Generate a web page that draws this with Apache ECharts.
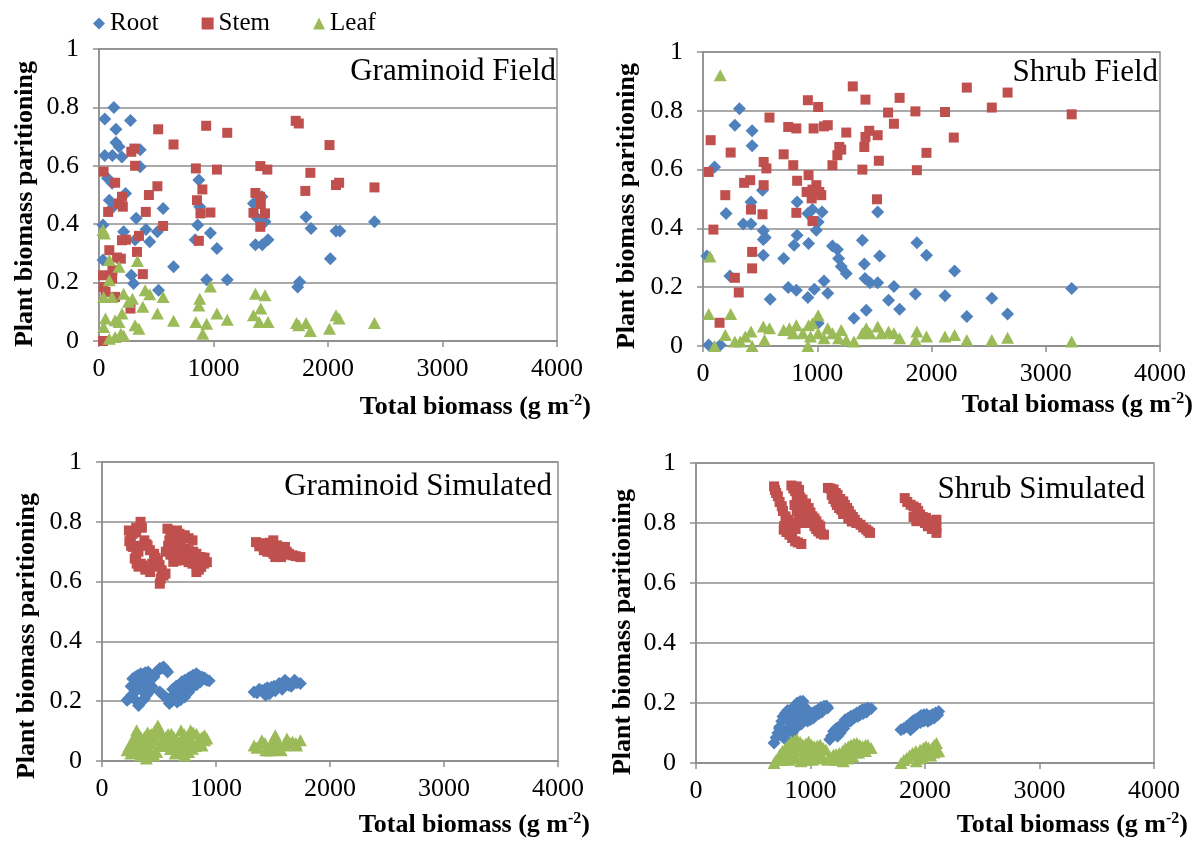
<!DOCTYPE html>
<html>
<head>
<meta charset="utf-8">
<script src="https://cdn.jsdelivr.net/npm/echarts@6/dist/echarts.min.js"></script>
<style>
html,body{margin:0;padding:0;background:#fff;}
#chart{width:1197px;height:843px;}
</style>
</head>
<body>
<div id="chart"></div>
<script>
// ---- Data ----
var seriesNames = ['Root', 'Stem', 'Leaf'];
var panelTitles = ['Graminoid Field', 'Shrub Field', 'Graminoid Simulated', 'Shrub Simulated'];
var xTicks = [0, 1000, 2000, 3000, 4000];
var yTicks = [0, 0.2, 0.4, 0.6, 0.8, 1];

// Graminoid Field
var gfRoot = [[50,0.76],[130,0.80],[275,0.755],[148,0.725],[148,0.68],[175,0.665],[50,0.635],[117,0.635],[200,0.63],[360,0.655],[360,0.597],[75,0.557],[115,0.54],[232,0.505],[90,0.482],[125,0.46],[560,0.454],[35,0.397],[325,0.42],[215,0.374],[410,0.382],[510,0.374],[443,0.34],[315,0.347],[35,0.277],[282,0.225],[302,0.197],[520,0.174],[651,0.254],[872,0.551],[880,0.46],[862,0.397],[840,0.347],[973,0.37],[1030,0.317],[940,0.21],[1120,0.21],[1349,0.471],[1423,0.494],[1383,0.42],[1450,0.408],[1366,0.33],[1426,0.33],[1476,0.347],[1735,0.185],[1752,0.202],[1808,0.425],[1852,0.385],[2020,0.282],[2070,0.377],[2104,0.377],[2406,0.408]];
var gfStem = [[35,0.0],[40,0.58],[141,0.542],[80,0.442],[90,0.311],[35,0.225],[40,0.185],[57,0.168],[117,0.242],[115,0.214],[141,0.151],[158,0.286],[191,0.282],[201,0.494],[208,0.46],[201,0.345],[235,0.347],[175,0.471],[282,0.648],[309,0.659],[315,0.6],[349,0.36],[332,0.305],[383,0.229],[409,0.442],[436,0.5],[510,0.53],[560,0.394],[517,0.725],[651,0.673],[275,0.111],[846,0.591],[856,0.482],[903,0.519],[886,0.437],[872,0.343],[936,0.737],[973,0.44],[1030,0.587],[1120,0.713],[1366,0.507],[1409,0.599],[1470,0.587],[1349,0.439],[1406,0.494],[1413,0.469],[1450,0.437],[1409,0.391],[1718,0.754],[1745,0.745],[2013,0.671],[1846,0.576],[1802,0.514],[2070,0.534],[2097,0.542],[2406,0.526]];
var gfLeaf = [[35,0.38],[47,0.368],[90,0.277],[175,0.254],[336,0.274],[90,0.208],[40,0.151],[114,0.151],[215,0.162],[258,0.134],[292,0.145],[403,0.174],[443,0.16],[383,0.117],[560,0.151],[57,0.077],[40,0.048],[141,0.071],[201,0.094],[175,0.065],[90,0.008],[141,0.014],[191,0.025],[215,0.019],[315,0.054],[349,0.042],[510,0.094],[651,0.069],[880,0.145],[872,0.122],[846,0.065],[940,0.059],[906,0.025],[973,0.187],[1030,0.094],[1120,0.073],[1366,0.162],[1450,0.157],[1413,0.111],[1349,0.088],[1399,0.065],[1476,0.065],[1725,0.062],[1745,0.054],[1808,0.062],[1846,0.034],[2013,0.042],[2070,0.088],[2097,0.077],[2406,0.062]];

// Shrub Field
var sfRoot = [[50,0.003],[151,0.003],[34,0.306],[101,0.609],[319,0.807],[279,0.751],[430,0.732],[430,0.681],[202,0.451],[353,0.415],[420,0.415],[420,0.49],[521,0.53],[528,0.392],[545,0.369],[528,0.362],[528,0.309],[588,0.159],[235,0.238],[706,0.298],[746,0.199],[817,0.19],[824,0.49],[824,0.377],[797,0.343],[918,0.451],[958,0.464],[924,0.349],[992,0.394],[1008,0.422],[1042,0.456],[918,0.165],[975,0.193],[1008,0.077],[1059,0.221],[1092,0.179],[1133,0.34],[1176,0.328],[1187,0.298],[1210,0.27],[1254,0.247],[1395,0.36],[1412,0.279],[1418,0.23],[1462,0.215],[1529,0.215],[1529,0.456],[1546,0.306],[1429,0.122],[1321,0.094],[1624,0.156],[1671,0.202],[1721,0.125],[1859,0.177],[1872,0.351],[1956,0.309],[2118,0.171],[2202,0.255],[2309,0.1],[2528,0.162],[2666,0.109],[3227,0.196]];
var sfStem = [[50,0.592],[67,0.7],[91,0.396],[145,0.079],[195,0.513],[242,0.658],[279,0.232],[313,0.182],[360,0.555],[413,0.564],[420,0.464],[430,0.32],[430,0.264],[521,0.448],[531,0.547],[531,0.626],[555,0.604],[582,0.777],[706,0.652],[746,0.745],[817,0.74],[790,0.615],[824,0.562],[817,0.453],[918,0.836],[1008,0.813],[968,0.74],[924,0.581],[907,0.524],[958,0.532],[992,0.547],[1018,0.524],[1035,0.513],[951,0.502],[958,0.425],[1059,0.747],[1092,0.751],[1133,0.615],[1176,0.649],[1193,0.677],[1210,0.668],[1254,0.726],[1311,0.883],[1395,0.6],[1412,0.677],[1422,0.711],[1422,0.838],[1455,0.732],[1529,0.717],[1539,0.63],[1523,0.499],[1620,0.794],[1671,0.756],[1721,0.844],[1859,0.798],[1872,0.598],[1956,0.657],[2118,0.796],[2195,0.709],[2309,0.879],[2528,0.811],[2666,0.862],[3227,0.788]];
var sfLeaf = [[151,0.921],[61,0.304],[50,0.109],[242,0.109],[101,0.0],[195,0.037],[279,0.015],[326,0.015],[370,0.032],[420,0.049],[430,0.0],[528,0.066],[538,0.02],[582,0.06],[706,0.054],[756,0.06],[817,0.071],[790,0.043],[874,0.043],[924,0.071],[941,0.032],[918,0.0],[958,0.077],[1008,0.105],[1008,0.043],[1059,0.026],[1092,0.06],[1133,0.043],[1187,0.026],[1210,0.054],[1254,0.02],[1321,0.015],[1395,0.043],[1429,0.06],[1462,0.043],[1529,0.066],[1563,0.043],[1624,0.049],[1671,0.043],[1721,0.026],[1859,0.02],[1872,0.049],[1956,0.032],[2118,0.032],[2202,0.037],[2309,0.02],[2528,0.02],[2666,0.028],[3227,0.015]];

// Graminoid Simulated
var gsRoot = [[220,0.203],[240,0.21],[260,0.22],[274,0.225],[290,0.235],[304,0.247],[320,0.258],[340,0.265],[355,0.27],[321,0.186],[335,0.195],[350,0.2],[372,0.208],[390,0.22],[405,0.228],[422,0.236],[440,0.248],[255,0.25],[270,0.275],[290,0.28],[310,0.285],[338,0.292],[360,0.29],[380,0.295],[405,0.298],[456,0.281],[470,0.295],[490,0.302],[507,0.309],[525,0.31],[540,0.314],[560,0.305],[575,0.298],[250,0.215],[290,0.205],[340,0.24],[390,0.262],[420,0.27],[440,0.28],[507,0.231],[530,0.222],[557,0.214],[575,0.205],[591,0.192],[610,0.2],[625,0.21],[642,0.225],[660,0.235],[675,0.242],[693,0.247],[710,0.258],[726,0.27],[745,0.272],[760,0.278],[777,0.281],[800,0.287],[828,0.292],[850,0.285],[878,0.281],[900,0.278],[920,0.27],[940,0.268],[659,0.197],[690,0.205],[726,0.214],[760,0.23],[794,0.247],[830,0.255],[861,0.264],[900,0.275],[608,0.214],[620,0.24],[650,0.25],[680,0.225],[700,0.265],[730,0.245],[760,0.255],[790,0.268],[840,0.27],[870,0.27],[1334,0.231],[1360,0.228],[1402,0.236],[1430,0.24],[1470,0.225],[1486,0.247],[1510,0.25],[1537,0.247],[1570,0.255],[1605,0.27],[1630,0.262],[1672,0.259],[1710,0.262],[1740,0.259],[1436,0.22],[1554,0.259],[1639,0.253],[1689,0.27],[1380,0.24],[1450,0.245],[1520,0.235],[1580,0.24],[1660,0.25]];
var gsStem = [[236,0.771],[253,0.749],[270,0.76],[300,0.78],[338,0.8],[350,0.78],[270,0.716],[287,0.677],[300,0.69],[320,0.72],[372,0.738],[390,0.725],[304,0.66],[320,0.65],[340,0.66],[355,0.654],[380,0.64],[422,0.632],[456,0.693],[470,0.68],[490,0.671],[505,0.655],[524,0.638],[507,0.593],[515,0.61],[540,0.62],[557,0.627],[240,0.735],[255,0.72],[300,0.765],[320,0.7],[400,0.72],[420,0.705],[440,0.66],[460,0.65],[574,0.777],[600,0.77],[630,0.76],[659,0.771],[680,0.76],[591,0.738],[620,0.73],[650,0.73],[700,0.745],[726,0.755],[760,0.745],[794,0.738],[642,0.705],[670,0.7],[693,0.716],[730,0.71],[760,0.705],[800,0.7],[828,0.693],[861,0.682],[880,0.68],[625,0.666],[650,0.67],[680,0.675],[726,0.671],[760,0.665],[794,0.66],[830,0.655],[860,0.66],[895,0.66],[920,0.665],[900,0.68],[828,0.632],[850,0.64],[870,0.649],[610,0.76],[680,0.745],[700,0.69],[760,0.68],[560,0.7],[580,0.72],[600,0.69],[1351,0.732],[1380,0.728],[1410,0.722],[1436,0.727],[1470,0.73],[1503,0.738],[1537,0.721],[1570,0.715],[1605,0.716],[1419,0.705],[1450,0.7],[1480,0.7],[1503,0.693],[1540,0.69],[1571,0.682],[1600,0.69],[1639,0.693],[1672,0.688],[1700,0.685],[1740,0.682],[1520,0.682],[1380,0.718],[1460,0.71],[1530,0.7],[1620,0.7]];
var gsLeaf = [[220,0.036],[240,0.05],[260,0.062],[274,0.069],[290,0.085],[304,0.103],[320,0.09],[340,0.08],[372,0.08],[390,0.07],[405,0.05],[422,0.036],[460,0.1],[490,0.119],[510,0.1],[524,0.091],[338,0.019],[360,0.04],[420,0.06],[439,0.069],[253,0.025],[280,0.03],[300,0.04],[389,0.008],[410,0.02],[557,0.058],[540,0.075],[456,0.019],[480,0.03],[500,0.05],[260,0.05],[330,0.06],[350,0.055],[400,0.095],[430,0.09],[470,0.07],[520,0.06],[560,0.08],[580,0.09],[608,0.091],[630,0.08],[659,0.069],[693,0.103],[720,0.09],[744,0.08],[777,0.103],[800,0.095],[828,0.091],[861,0.075],[880,0.08],[900,0.086],[920,0.075],[642,0.025],[660,0.03],[690,0.028],[726,0.019],[760,0.03],[794,0.041],[820,0.05],[850,0.055],[878,0.052],[900,0.069],[693,0.041],[710,0.06],[580,0.05],[600,0.04],[620,0.06],[650,0.05],[680,0.06],[740,0.05],[760,0.06],[790,0.065],[840,0.06],[1334,0.052],[1360,0.045],[1402,0.069],[1430,0.06],[1470,0.047],[1500,0.07],[1520,0.086],[1545,0.06],[1571,0.036],[1600,0.055],[1622,0.075],[1650,0.06],[1672,0.064],[1700,0.06],[1740,0.069],[1436,0.036],[1605,0.052],[1706,0.052],[1503,0.058],[1370,0.045],[1550,0.06],[1470,0.035],[1530,0.04]];

// Shrub Simulated
var ssRoot = [[682,0.067],[700,0.085],[715,0.1],[730,0.115],[749,0.139],[765,0.155],[782,0.167],[800,0.175],[833,0.178],[860,0.19],[883,0.2],[910,0.205],[934,0.206],[816,0.117],[840,0.13],[866,0.144],[890,0.155],[917,0.167],[940,0.17],[967,0.178],[990,0.17],[1017,0.167],[1040,0.172],[1068,0.178],[1090,0.185],[1118,0.189],[1140,0.19],[1150,0.183],[782,0.078],[730,0.12],[760,0.155],[800,0.145],[850,0.16],[900,0.14],[920,0.13],[950,0.15],[975,0.14],[1000,0.145],[1025,0.15],[1050,0.16],[1075,0.165],[1100,0.17],[750,0.09],[760,0.105],[790,0.11],[820,0.12],[840,0.1],[870,0.115],[900,0.185],[940,0.19],[1168,0.078],[1185,0.09],[1202,0.106],[1225,0.115],[1252,0.122],[1280,0.13],[1303,0.144],[1330,0.15],[1353,0.156],[1380,0.16],[1404,0.167],[1430,0.172],[1454,0.178],[1480,0.18],[1500,0.183],[1530,0.182],[1236,0.089],[1260,0.1],[1290,0.115],[1320,0.133],[1350,0.14],[1380,0.15],[1410,0.155],[1430,0.16],[1460,0.165],[1490,0.17],[1790,0.111],[1815,0.115],[1840,0.122],[1865,0.13],[1891,0.139],[1915,0.145],[1941,0.15],[1965,0.158],[1991,0.161],[2015,0.162],[2042,0.156],[2065,0.162],[2092,0.167],[2120,0.172],[1874,0.111],[1900,0.12],[1930,0.13],[1960,0.135],[1990,0.14],[2025,0.139],[2050,0.145],[2080,0.15],[2110,0.16]];
var ssStem = [[682,0.922],[690,0.91],[700,0.9],[715,0.889],[730,0.87],[749,0.856],[760,0.84],[782,0.822],[800,0.81],[766,0.778],[790,0.77],[816,0.761],[840,0.75],[866,0.739],[890,0.735],[920,0.73],[809,0.811],[830,0.8],[850,0.789],[870,0.78],[790,0.8],[770,0.79],[833,0.925],[850,0.915],[866,0.906],[880,0.89],[900,0.872],[915,0.86],[934,0.844],[950,0.835],[967,0.822],[985,0.815],[1000,0.811],[1020,0.8],[1034,0.789],[1050,0.78],[1068,0.772],[1090,0.765],[1118,0.761],[880,0.922],[900,0.91],[883,0.894],[910,0.885],[930,0.878],[960,0.865],[984,0.85],[1000,0.835],[1017,0.822],[1035,0.815],[1051,0.806],[1070,0.795],[1085,0.789],[900,0.82],[920,0.81],[950,0.8],[880,0.84],[860,0.86],[1152,0.917],[1175,0.915],[1202,0.912],[1220,0.9],[1236,0.894],[1260,0.88],[1286,0.872],[1300,0.86],[1320,0.85],[1335,0.84],[1353,0.828],[1370,0.82],[1387,0.811],[1410,0.8],[1437,0.794],[1460,0.785],[1487,0.778],[1505,0.772],[1520,0.767],[1185,0.894],[1200,0.88],[1230,0.86],[1250,0.85],[1269,0.844],[1285,0.83],[1300,0.83],[1330,0.815],[1360,0.805],[1400,0.8],[1220,0.87],[1823,0.883],[1845,0.87],[1874,0.861],[1900,0.855],[1924,0.85],[1940,0.84],[1958,0.828],[1980,0.82],[2008,0.817],[2030,0.808],[2059,0.8],[2080,0.79],[2100,0.783],[2100,0.811],[1924,0.806],[1950,0.81],[2000,0.8],[2025,0.789],[2060,0.78],[2100,0.767],[1975,0.811],[1900,0.82]];
var ssLeaf = [[682,0.0],[700,0.01],[732,0.028],[755,0.04],[782,0.05],[805,0.06],[833,0.072],[860,0.075],[883,0.078],[910,0.07],[934,0.061],[960,0.065],[984,0.072],[1010,0.06],[1034,0.056],[1060,0.058],[1085,0.061],[1110,0.05],[1135,0.044],[816,0.011],[850,0.02],[880,0.015],[917,0.006],[950,0.01],[985,0.02],[1017,0.011],[967,0.033],[940,0.04],[900,0.045],[866,0.039],[840,0.045],[760,0.01],[800,0.03],[900,0.04],[1000,0.03],[1040,0.03],[1060,0.02],[1090,0.03],[1110,0.015],[950,0.015],[720,0.015],[780,0.02],[820,0.035],[1152,0.011],[1175,0.02],[1202,0.028],[1225,0.03],[1252,0.033],[1280,0.04],[1303,0.05],[1330,0.055],[1353,0.061],[1380,0.065],[1404,0.067],[1430,0.06],[1454,0.056],[1480,0.06],[1500,0.061],[1530,0.05],[1286,0.006],[1320,0.015],[1350,0.03],[1370,0.022],[1230,0.01],[1260,0.015],[1330,0.02],[1400,0.035],[1420,0.035],[1450,0.04],[1480,0.04],[1790,0.0],[1815,0.01],[1840,0.017],[1865,0.025],[1891,0.033],[1920,0.04],[1958,0.044],[1985,0.05],[2008,0.056],[2030,0.052],[2059,0.05],[2080,0.06],[2100,0.067],[2120,0.039],[1924,0.006],[1950,0.015],[1980,0.02],[2010,0.03],[2050,0.025],[2080,0.035]];

// ---- Chart ----
var panelData = [[gfRoot, gfStem, gfLeaf],[sfRoot, sfStem, sfLeaf],[gsRoot, gsStem, gsLeaf],[ssRoot, ssStem, ssLeaf]];
var colors = ['#4F81BD', '#C0504D', '#9BBB59'];
var symbols = ['diamond', 'rect', 'triangle'];
var symbolSizes = [[13,13],[10,10],[13,12]];
var grids = [
  {left:99, top:49, width:458, height:292},
  {left:703, top:52, width:457, height:294},
  {left:102, top:462, width:456, height:299},
  {left:696, top:463, width:458, height:300}
];
var FONT = '"Liberation Serif", "Times New Roman", serif';
var gray = '#8E8E8E';

var xAxes = [], yAxes = [], series = [];
grids.forEach(function(g, i){
  g.show = true; g.borderColor = gray; g.borderWidth = 1.5; g.containLabel = false;
  xAxes.push({
    gridIndex:i, type:'value', min:xTicks[0], max:xTicks[xTicks.length-1], interval:xTicks[1]-xTicks[0],
    axisLine:{show:true, onZero:false, lineStyle:{color:gray, width:1.5}},
    axisTick:{show:true, inside:false, length:6, lineStyle:{color:gray, width:1.5}},
    splitLine:{show:false},
    axisLabel:{color:'#000', fontFamily:FONT, fontSize:26, margin:15, formatter:function(v){ return String(v); }}
  });
  yAxes.push({
    gridIndex:i, type:'value', min:yTicks[0], max:yTicks[yTicks.length-1], interval:yTicks[1]-yTicks[0],
    axisLine:{show:true, lineStyle:{color:gray, width:1.5}},
    axisTick:{show:true, inside:false, length:6, lineStyle:{color:gray, width:1.5}},
    splitLine:{show:true, lineStyle:{color:gray, width:1.5}},
    axisLabel:{color:'#000', fontFamily:FONT, fontSize:26, margin:20, formatter:function(v){ return String(Math.round(v*10)/10); }}
  });
  for (var s = 0; s < 3; s++) {
    series.push({
      name: seriesNames[s], type:'scatter', xAxisIndex:i, yAxisIndex:i,
      data: panelData[i][s], symbol: symbols[s], symbolSize: symbolSizes[s],
      itemStyle:{color:colors[s], opacity:1}, emphasis:{disabled:true}, animation:false
    });
  }
});

var graphics = [];
var titlePos = [[556,72],[1158,73],[552,487],[1145,490]];
var xTitlePos = [[591,407],[1193,405],[590,825],[1188,825]];
var yTitlePos = [[25,204],[627,206],[27,636],[623,632]];
for (var i = 0; i < 4; i++) {
  graphics.push({type:'text', x:titlePos[i][0], y:titlePos[i][1], z:100,
    style:{text:panelTitles[i], font:'31px ' + FONT, fill:'#000', align:'right', verticalAlign:'middle'}});
  graphics.push({type:'text', x:xTitlePos[i][0], y:xTitlePos[i][1], z:100,
    style:{text:'{b|Total biomass (g m}{s|-2}{b|)}', align:'right', verticalAlign:'middle', fill:'#000',
      rich:{b:{fontFamily:FONT, fontWeight:'bold', fontSize:26, lineHeight:28, fill:'#000'},
            s:{fontFamily:FONT, fontWeight:'bold', fontSize:16, lineHeight:28, verticalAlign:'top', fill:'#000'}}}});
  graphics.push({type:'text', x:yTitlePos[i][0], y:yTitlePos[i][1], rotation:Math.PI/2, z:100,
    style:{text:'Plant biomass paritioning', font:'bold 26px ' + FONT, fill:'#000', align:'center', verticalAlign:'middle'}});
}

var chart = echarts.init(document.getElementById('chart'), null, {renderer:'canvas'});
chart.setOption({
  backgroundColor:'#fff',
  animation:false,
  legend:{
    left:88, top:6, itemGap:43, itemWidth:12, itemHeight:12,
    data:[{name:seriesNames[0], icon:'diamond'},{name:seriesNames[1], icon:'rect'},{name:seriesNames[2], icon:'triangle'}],
    textStyle:{fontFamily:FONT, fontSize:25, color:'#000'},
    selectedMode:false
  },
  grid: grids,
  xAxis: xAxes,
  yAxis: yAxes,
  series: series,
  graphic: graphics
});
</script>
</body>
</html>
